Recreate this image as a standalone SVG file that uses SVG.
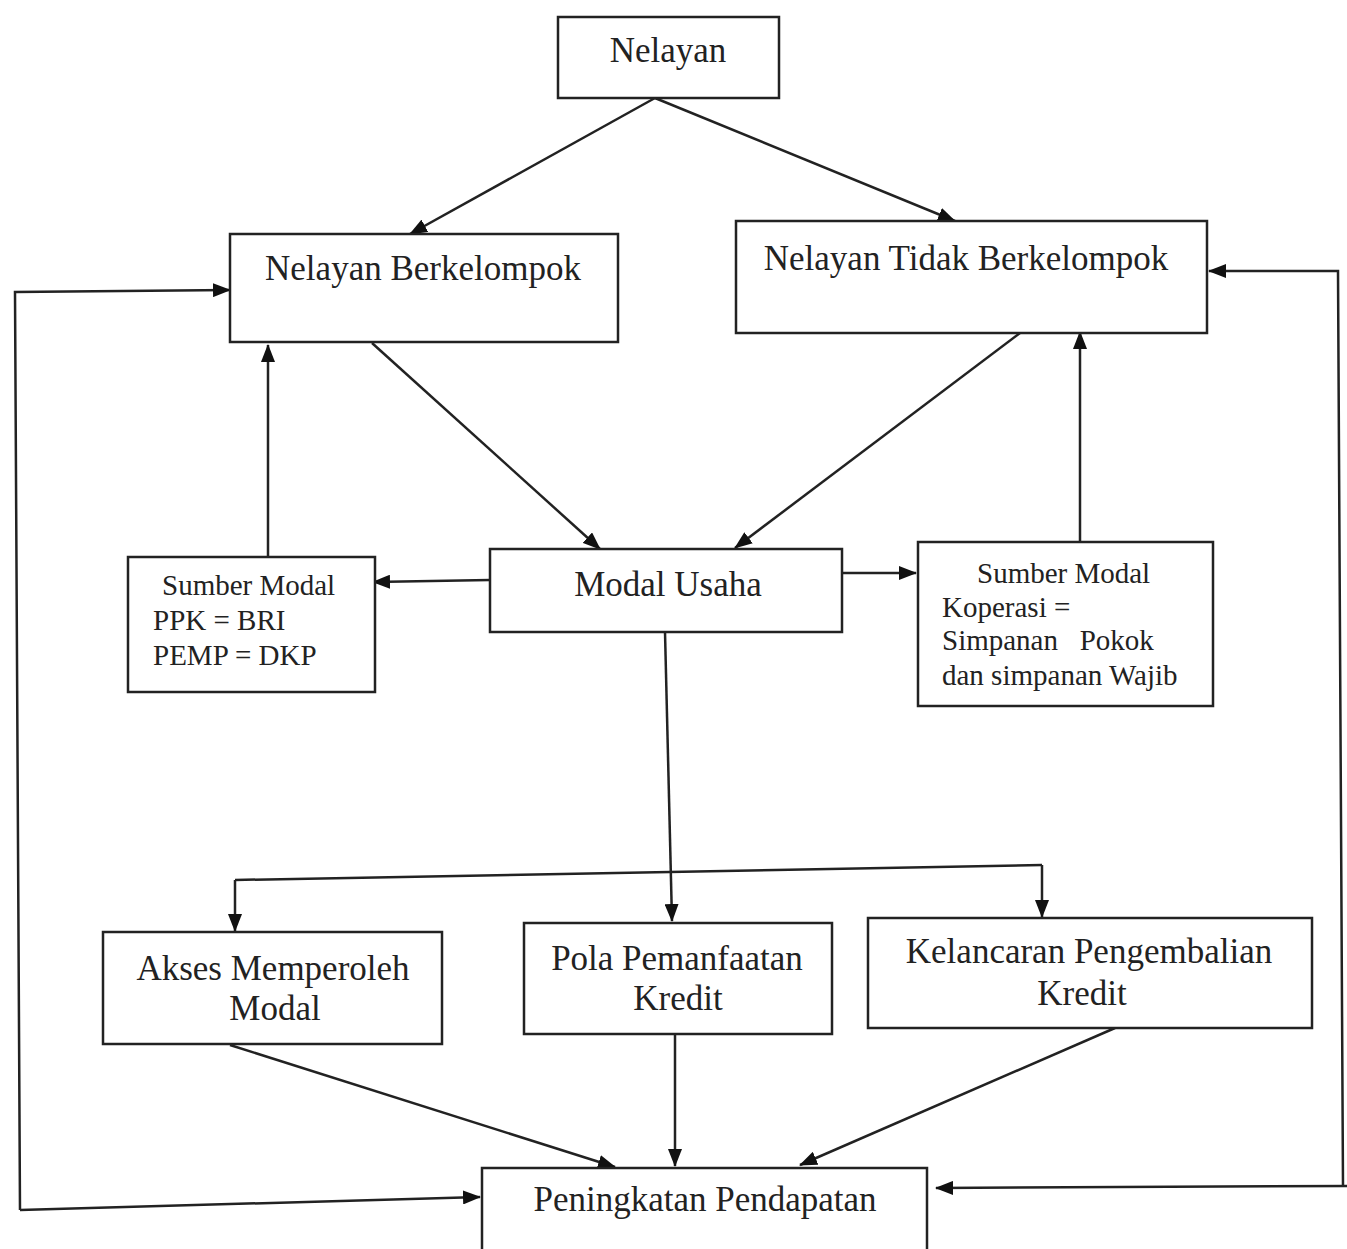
<svg xmlns="http://www.w3.org/2000/svg" width="1347" height="1249" viewBox="0 0 1347 1249">
<style>
.box{fill:#fff;stroke:#222;stroke-width:2.5}
.t{font-family:"Liberation Serif","Times New Roman",serif;font-size:35px;fill:#222}
.s{font-family:"Liberation Serif","Times New Roman",serif;font-size:29px;fill:#222}
.c{stroke:#222;stroke-width:2.5;fill:none;marker-end:url(#ah)}
.l{stroke:#222;stroke-width:2.5;fill:none}
</style>
<defs>
<marker id="ah" markerUnits="userSpaceOnUse" markerWidth="18" markerHeight="14" refX="17" refY="7" orient="auto">
<path d="M0,0 L18,7 L0,14 Z" fill="#111"/>
</marker>
</defs>
<rect width="1347" height="1249" fill="#fff"/>
<g id="connectors">
<path class="c" d="M655,98 L410,234"/>
<path class="c" d="M655,98 L955,221"/>
<path class="c" d="M372,343 L600,549"/>
<path class="c" d="M1020,333 L735,548"/>
<path class="c" d="M490,580 L373,582"/>
<path class="c" d="M268,557 L268,345"/>
<path class="c" d="M843,573 L916,573"/>
<path class="c" d="M1080,541 L1080,332"/>
<path class="c" d="M665,632 L672,921"/>
<path class="l" d="M235,880 L1042,865"/>
<path class="c" d="M235,880 L235,931"/>
<path class="c" d="M1042,865 L1042,917"/>
<path class="c" d="M230,1045 L615,1167"/>
<path class="c" d="M675,1035 L675,1166"/>
<path class="c" d="M1115,1028 L800,1165"/>
<path class="c" d="M20,1210 L15,292 L230,290"/>
<path class="c" d="M20,1210 L480,1197"/>
<path class="c" d="M1347,1186 L936,1188"/>
<path class="c" d="M1343,1186 L1338,271 L1209,271"/>
</g>
<g id="nelayan">
<rect class="box" x="558" y="17" width="221" height="81"/>
<text class="t" x="668" y="62" text-anchor="middle">Nelayan</text>
</g>
<g id="nelayan-berkelompok">
<rect class="box" x="230" y="234" width="388" height="108"/>
<text class="t" x="423" y="280" text-anchor="middle">Nelayan Berkelompok</text>
</g>
<g id="nelayan-tidak-berkelompok">
<rect class="box" x="736" y="221" width="471" height="112"/>
<text class="t" x="966" y="270" text-anchor="middle">Nelayan Tidak Berkelompok</text>
</g>
<g id="modal-usaha">
<rect class="box" x="490" y="549" width="352" height="83"/>
<text class="t" x="668" y="596" text-anchor="middle">Modal Usaha</text>
</g>
<g id="sumber-modal-kiri">
<rect class="box" x="128" y="557" width="247" height="135"/>
<text class="s" x="162" y="595">Sumber Modal</text>
<text class="s" x="153" y="630">PPK = BRI</text>
<text class="s" x="153" y="665">PEMP = DKP</text>
</g>
<g id="sumber-modal-kanan">
<rect class="box" x="918" y="542" width="295" height="164"/>
<text class="s" x="977" y="583">Sumber Modal</text>
<text class="s" x="942" y="617">Koperasi =</text>
<text class="s" x="942" y="650" xml:space="preserve">Simpanan   Pokok</text>
<text class="s" x="942" y="685">dan simpanan Wajib</text>
</g>
<g id="akses">
<rect class="box" x="103" y="932" width="339" height="112"/>
<text class="t" x="273" y="980" text-anchor="middle">Akses Memperoleh</text>
<text class="t" x="275" y="1020" text-anchor="middle">Modal</text>
</g>
<g id="pola">
<rect class="box" x="524" y="923" width="308" height="111"/>
<text class="t" x="677" y="970" text-anchor="middle">Pola Pemanfaatan</text>
<text class="t" x="678" y="1010" text-anchor="middle">Kredit</text>
</g>
<g id="kelancaran">
<rect class="box" x="868" y="918" width="444" height="110"/>
<text class="t" x="1089" y="963" text-anchor="middle">Kelancaran Pengembalian</text>
<text class="t" x="1082" y="1005" text-anchor="middle">Kredit</text>
</g>
<g id="peningkatan">
<rect class="box" x="482" y="1168" width="445" height="90"/>
<text class="t" x="705" y="1211" text-anchor="middle">Peningkatan Pendapatan</text>
</g>
</svg>
